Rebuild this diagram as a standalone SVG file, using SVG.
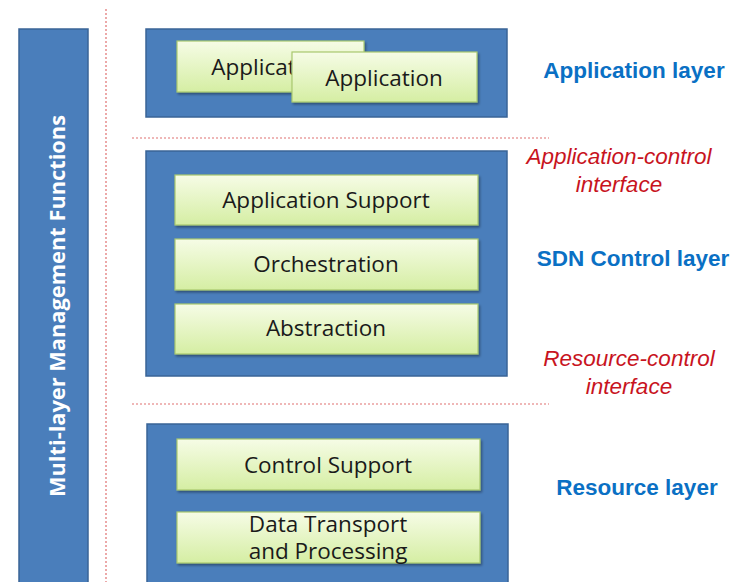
<svg xmlns="http://www.w3.org/2000/svg" width="731" height="582" viewBox="0 0 731 582">
<defs>
<linearGradient id="g" x1="0" y1="0" x2="0" y2="1">
<stop offset="0" stop-color="#F6FCE6"/>
<stop offset="1" stop-color="#D5EEA3"/>
</linearGradient>
<filter id="sh" x="-5%" y="-10%" width="115%" height="130%">
<feDropShadow dx="1.5" dy="2" stdDeviation="1.2" flood-color="#000" flood-opacity="0.35"/>
</filter>
<style>
.layer{fill:#4A7EBB;stroke:#3A6497;stroke-width:1.5}
.box{fill:url(#g);stroke:#A9C96E;stroke-width:1.2;filter:url(#sh)}
.bt{font-family:"Open Sans","Noto Sans",sans-serif;font-size:22.5px;fill:#1a1a1a;text-anchor:middle}
.blue{font-family:"Liberation Sans",Arial,sans-serif;font-weight:bold;font-size:22.5px;fill:#0A70C4;text-anchor:middle}
.red{font-family:"Liberation Sans",Arial,sans-serif;font-style:italic;font-size:22.5px;fill:#C8141E;text-anchor:middle}
.dot{stroke:#E07070;stroke-width:1.2;stroke-dasharray:2 2;fill:none}
</style>
</defs>
<rect width="731" height="582" fill="#fff"/>
<g id="connectors">
<line class="dot" x1="106" y1="9" x2="106" y2="582"/>
<line class="dot" x1="132" y1="138" x2="549" y2="138"/>
<line class="dot" x1="132" y1="404" x2="549" y2="404"/>
</g>
<g id="mgmt">
<rect class="layer" x="19" y="29" width="69" height="560"/>
<text transform="translate(65,306) rotate(-90)" font-family="'Open Sans','Noto Sans',sans-serif" font-weight="bold" font-size="21.8" fill="#fff" text-anchor="middle">Multi-layer Management Functions</text>
</g>
<g id="app-layer">
<rect class="layer" x="146" y="29" width="361" height="88"/>
</g>
<g id="app1">
<rect class="box" x="177" y="41" width="187" height="51"/>
<text class="bt" x="270" y="75">Application</text>
</g>
<g id="app2">
<rect class="box" x="292" y="52" width="185" height="50"/>
<text class="bt" x="384" y="86">Application</text>
</g>
<g id="ctrl-layer">
<rect class="layer" x="146" y="151" width="361" height="225"/>
</g>
<g id="app-support">
<rect class="box" x="175" y="175" width="303" height="50"/>
<text class="bt" x="326" y="208">Application Support</text>
</g>
<g id="orchestration">
<rect class="box" x="175" y="239" width="303" height="51"/>
<text class="bt" x="326" y="272">Orchestration</text>
</g>
<g id="abstraction">
<rect class="box" x="175" y="304" width="303" height="50"/>
<text class="bt" x="326" y="336">Abstraction</text>
</g>
<g id="res-layer">
<rect class="layer" x="147" y="424" width="361" height="170"/>
</g>
<g id="control-support">
<rect class="box" x="177" y="439" width="303" height="51"/>
<text class="bt" x="328" y="473">Control Support</text>
</g>
<g id="data-transport">
<rect class="box" x="177" y="512" width="303" height="51"/>
<text class="bt" x="328" y="532">Data Transport</text>
<text class="bt" x="328" y="559">and Processing</text>
</g>
<g id="labels">
<text class="blue" x="634" y="78">Application layer</text>
<text class="red" x="619" y="164">Application-control</text>
<text class="red" x="619" y="192">interface</text>
<text class="blue" x="633" y="266">SDN Control layer</text>
<text class="red" x="629" y="366">Resource-control</text>
<text class="red" x="629" y="394">interface</text>
<text class="blue" x="637" y="495">Resource layer</text>
</g>
</svg>
